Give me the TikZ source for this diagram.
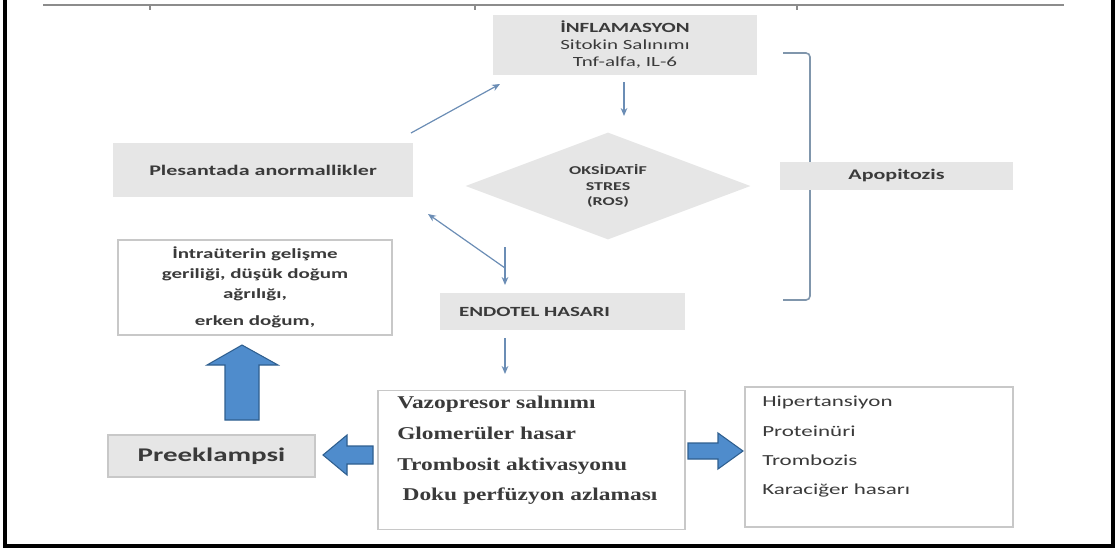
\documentclass[tikz,border=0pt]{standalone}
\usepackage{fontspec}
\setmainfont{Carlito}
\newfontfamily\sansw[FakeStretch=1.5]{Carlito}
\newfontfamily\serifw[FakeStretch=1.3]{Liberation Serif}
\usetikzlibrary{shapes.geometric,arrows.meta}
\definecolor{boxgray}{HTML}{E6E6E6}
\definecolor{boxline}{HTML}{C8C8C8}
\definecolor{arrowc}{HTML}{6B8DB5}
\definecolor{bracketc}{HTML}{8096AC}
\definecolor{blockfill}{HTML}{4F8CCC}
\definecolor{blockline}{HTML}{2F5F8F}
\definecolor{txt}{HTML}{3A3A3A}
\begin{document}
\begin{tikzpicture}[x=0.75pt,y=-0.75pt,
  graybox/.style={fill=boxgray,draw=none,inner sep=0pt,align=center,text=txt},
  whitebox/.style={fill=white,draw=boxline,line width=1pt,inner sep=0pt},
  thinarrow/.style={draw=arrowc,line width=0.9pt,-{Stealth[length=6pt,width=5pt]}},
  blockarrow/.style={fill=blockfill,draw=blockline,line width=0.8pt,line join=miter},
  listtext/.style={anchor=north west,align=left,inner sep=0pt,text=txt}]
\useasboundingbox (0,0) rectangle (1119,554);
% frame
\draw[color=black!45,line width=2pt] (43,5) -- (1064,5);
\foreach \tx in {150,475,797} \draw[color=black!45,line width=0.8pt] (\tx,5) -- (\tx,10);
\draw[black,line width=2.5pt] (5,0) -- (5,546) -- (1113,546) -- (1113,0);
% bracket
\draw[bracketc,line width=1.2pt,rounded corners=3pt] (783,53) -- (810,53) -- (810,300) -- (783,300);
% nodes
\node[graybox,minimum width=198pt,minimum height=45pt,font=\sansw\fontsize{10.5}{12.8}\selectfont] (infl) at (625,44.5)
  {\textbf{İNFLAMASYON}\\Sitokin Salınımı\\Tnf-alfa, IL-6};
\node[graybox,minimum width=225pt,minimum height=40.5pt,font=\sansw\fontsize{11}{13}\selectfont\bfseries] (plac) at (263,170)
  {Plesantada anormallikler};
\node[diamond,fill=boxgray,inner sep=0pt,aspect=2.66,minimum width=213.75pt,minimum height=80.25pt,
  align=center,text=txt,font=\sansw\fontsize{9}{11.5}\selectfont\bfseries] (ox) at (608,186)
  {OKSİDATİF\\STRES\\(ROS)};
\node[graybox,minimum width=174.75pt,minimum height=21pt,font=\sansw\fontsize{11}{13}\selectfont\bfseries] (apop) at (896.5,176)
  {Apopitozis};
\node[whitebox,minimum width=205.5pt,minimum height=71.25pt,align=center,text=txt,font=\sansw\fontsize{10.5}{15}\selectfont\bfseries] (intra) at (255,287.5)
  {İntraüterin gelişme\\geriliği, düşük doğum\\ağrılığı,\\[5pt]erken doğum,};
\node[graybox,minimum width=183.75pt,minimum height=27.75pt,text width=155.25pt,inner xsep=14.25pt,align=left,font=\sansw\fontsize{10.5}{12}\selectfont\bfseries] (endo) at (562.5,311.5)
  {ENDOTEL HASARI};
\node[whitebox,minimum width=230.25pt,minimum height=104pt] (mid) at (531.5,460) {};
\node[listtext,font=\serifw\fontsize{13.5}{23}\selectfont\bfseries] (midtext) at (397,396)
  {Vazopresor salınımı\\Glomerüler hasar\\Trombosit aktivasyonu\\\hspace{4pt}Doku perfüzyon azlaması};
\node[whitebox,minimum width=201pt,minimum height=105pt] (right) at (879,457) {};
\node[listtext,font=\sansw\fontsize{11.5}{22}\selectfont] (righttext) at (762,396)
  {Hipertansiyon\\Proteinüri\\Trombozis\\Karaciğer hasarı};
\node[graybox,draw=boxline,line width=0.8pt,minimum width=155.25pt,minimum height=31.5pt,font=\sansw\fontsize{14.5}{16}\selectfont\bfseries] (pre) at (211.5,456)
  {Preeklampsi};
% thin arrows
\coordinate (a1s) at (411,133); \coordinate (a1e) at (500,84);
\coordinate (a2s) at (624,82);  \coordinate (a2e) at (624,116);
\coordinate (a3s) at (505,268); \coordinate (a3e) at (428,214);
\coordinate (a4s) at (505,247); \coordinate (a4e) at (505,285);
\coordinate (a5s) at (505,338); \coordinate (a5e) at (505,374);
\draw[thinarrow] (a1s) -- (a1e);
\draw[thinarrow] (a2s) -- (a2e);
\draw[thinarrow] (a3s) -- (a3e);
\draw[thinarrow] (a4s) -- (a4e);
\draw[thinarrow] (a5s) -- (a5e);
% block arrows
\draw[blockarrow] (225,420) -- (225,365) -- (207,365) -- (242,345) -- (278,365) -- (259,365) -- (259,420) -- cycle;
\draw[blockarrow] (373,446) -- (347,446) -- (347,435) -- (323,455) -- (347,475) -- (347,464) -- (373,464) -- cycle;
\draw[blockarrow] (688,443) -- (718,443) -- (718,433) -- (743,451) -- (718,469) -- (718,459) -- (688,459) -- cycle;
\end{tikzpicture}
\end{document}
